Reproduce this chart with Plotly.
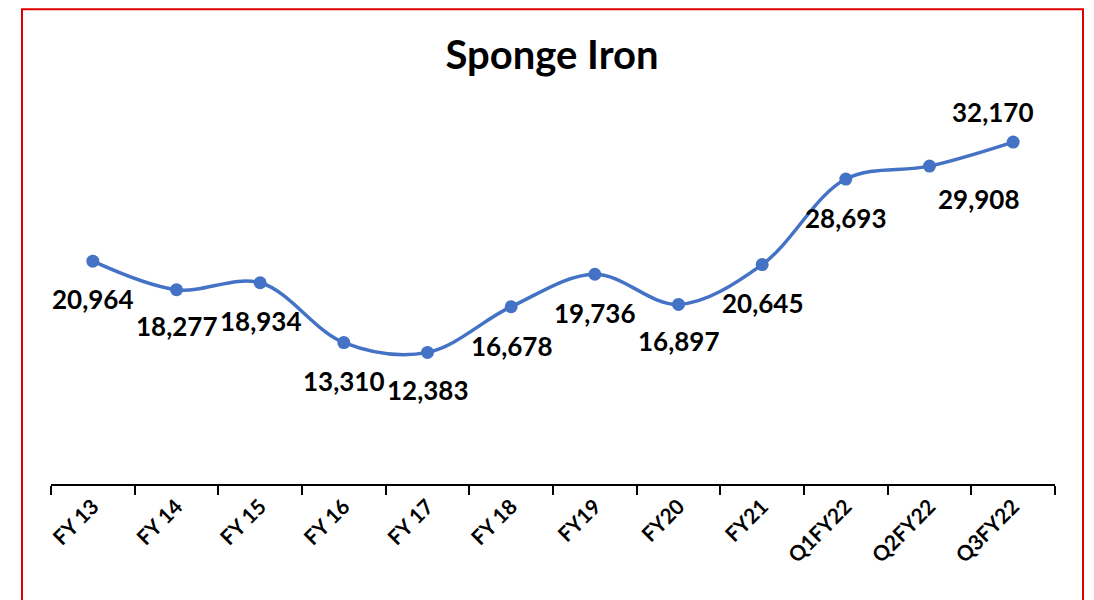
import plotly.graph_objects as go

categories = ["FY 13", "FY 14", "FY 15", "FY 16", "FY 17", "FY 18", "FY19", "FY20", "FY21",
              "Q1FY22", "Q2FY22", "Q3FY22"]
values = [20964, 18277, 18934, 13310, 12383, 16678, 19736, 16897, 20645, 28693, 29908, 32170]

# label offsets (style): (xshift, yshift) in pixels
label_shift_x = [0, 0, 0, 0, 0, 0, 0, 0, 0, 0, 49, -21]
label_shift_y = [-38, -36, -38, -38, -38, -39, -39, -37, -38, -39, -33, 30]

# page body has an 8px margin; figure coordinates are relative to (8, 8)
OFF = 8
W, H = 1094 - OFF, 600 - OFF
ML, MR, MT, MB = 51 - OFF, 39, 112 - OFF, 116
PW = W - ML - MR
PH = H - MT - MB

BLUE = "#4472C4"
FONT = "Lato"

fig = go.Figure()
fig.add_trace(go.Scatter(
    x=categories, y=values, mode="lines+markers",
    line=dict(color=BLUE, width=3.5, shape="spline", smoothing=1.0),
    marker=dict(color=BLUE, size=13),
    hoverinfo="skip", showlegend=False,
))

for c, v, dx, dy in zip(categories, values, label_shift_x, label_shift_y):
    fig.add_annotation(
        x=c, y=v, xref="x", yref="y", text=f"{v:,}", showarrow=False,
        xshift=dx, yshift=dy, xanchor="center", yanchor="middle",
        font=dict(family=FONT, size=26, color="black", weight="bold"),
    )

def px_x(p):
    return (p - OFF - ML) / PW

def px_y(p):
    return (H - MB - (p - OFF)) / PH

fig.add_shape(type="rect", xref="paper", yref="paper",
              x0=px_x(22), x1=px_x(1083), y0=px_y(640), y1=px_y(9.2),
              line=dict(color="#E00000", width=2), fillcolor="rgba(0,0,0,0)", layer="above")

fig.update_layout(
    width=W, height=H,
    margin=dict(l=ML, r=MR, t=MT, b=MB, autoexpand=False),
    paper_bgcolor="white", plot_bgcolor="white",
    title=dict(text="Sponge Iron", x=(552 - OFF) / W, y=1 - (55 - OFF) / H,
               xref="container", yref="container",
               xanchor="center", yanchor="middle",
               font=dict(family=FONT, size=40, color="black", weight="bold")),
    xaxis=dict(type="category", range=[-0.5, 11.5], tickson="boundaries",
               ticks="outside", ticklen=9, tickwidth=1.5, tickcolor="black",
               showline=True, linecolor="black", linewidth=2, showgrid=False,
               tickangle=-45, tickfont=dict(family=FONT, size=21, color="black", weight="bold"),
               zeroline=False, fixedrange=True),
    yaxis=dict(range=[0, 35000], visible=False, showgrid=False, zeroline=False, fixedrange=True),
)

fig.write_html("out.html")
